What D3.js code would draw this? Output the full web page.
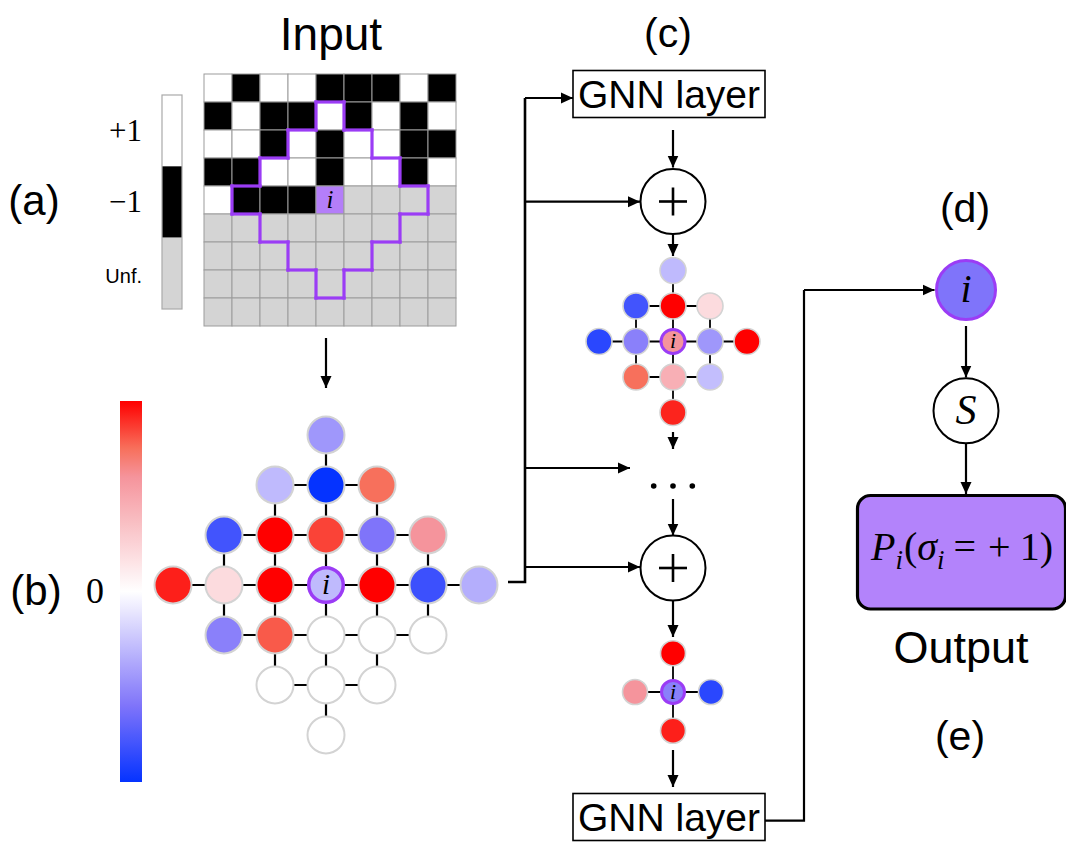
<!DOCTYPE html>
<html>
<head>
<meta charset="utf-8">
<script src="https://cdn.jsdelivr.net/npm/d3@7"></script>
<style>
  html, body { margin: 0; padding: 0; background: #fff; }
  svg { display: block; }
  .sans { font-family: "Liberation Sans", Arial, Helvetica, sans-serif; }
  .serif { font-family: "Liberation Serif", "Times New Roman", serif; }
</style>
</head>
<body>
<script>
// input lattice: +1 / -1 spins, 0 = not yet fixed
var spins = [
	[ 1, -1,  1,  1, -1, -1, -1,  1, -1],
	[-1,  1, -1, -1,  1, -1,  1, -1,  1],
	[ 1,  1, -1,  1, -1,  1,  1, -1, -1],
	[-1, -1,  1,  1, -1,  1,  1, -1,  1],
	[ 1, -1, -1, -1,  0,  0,  0,  0,  0],
	[ 0,  0,  0,  0,  0,  0,  0,  0,  0],
	[ 0,  0,  0,  0,  0,  0,  0,  0,  0],
	[ 0,  0,  0,  0,  0,  0,  0,  0,  0],
	[ 0,  0,  0,  0,  0,  0,  0,  0,  0]
];
var site = { row: 4, col: 4 };
var spinLabels = ['+1', '\u22121', 'Unf.'];
var spinValues = [1, -1, 0];

// node features, one list per row of the diamond (null = empty node)
var layerIn = [
	[-0.45],
	[-0.3, -1, 0.75],
	[-0.8, 1, 0.85, -0.6, 0.6],
	[0.93, 0.2, 1, -0.3, 1, -0.82, -0.35],
	[-0.55, 0.8, null, null, null],
	[null, null, null],
	[null]
];
var layerMid = [
	[-0.3],
	[-0.8, 1, 0.2],
	[-0.88, -0.55, 0.6, -0.45, 1],
	[0.75, 0.45, -0.28],
	[0.92]
];
var layerOut = [
	[1],
	[0.6, -0.55, -0.88],
	[0.93]
];
var siteOut = -0.6;
var formula = ['P', 'i', '(', '\u03c3', 'i', '=', '+', '1', ')'];

var purple = '#9b3cf5';

var color = d3.scaleLinear()
	.domain([-1, -0.6, 0, 0.6, 0.75, 1])
	.range(['#0533ff', '#7f74fa', '#ffffff', '#f5949c', '#f7705c', '#ff0000']);

var svg = d3.select('body').append('svg')
	.attr('width', 1066)
	.attr('height', 848);

var defs = svg.append('defs');
defs.append('marker')
	.attr('id', 'arrow')
	.attr('markerUnits', 'userSpaceOnUse')
	.attr('viewBox', '0 -6 12 12')
	.attr('refX', 12).attr('refY', 0)
	.attr('markerWidth', 12).attr('markerHeight', 12)
	.attr('orient', 'auto')
	.append('path')
	.attr('d', 'M0,-5.5L12,0L0,5.5Z')
	.attr('fill', '#000');

function arrow(points, w) {
	svg.append('path')
		.attr('d', d3.line()(points))
		.attr('fill', 'none')
		.attr('stroke', '#000')
		.attr('stroke-width', w || 2.2)
		.attr('marker-end', 'url(#arrow)');
}
function line(points, w) {
	svg.append('path')
		.attr('d', d3.line()(points))
		.attr('fill', 'none')
		.attr('stroke', '#000')
		.attr('stroke-width', w || 2.2);
}

// ---- (a) input grid
var gx = d3.scaleBand().domain(d3.range(9)).range([204, 456]);
var gy = d3.scaleBand().domain(d3.range(9)).range([74, 326]);
var cells = [];
spins.forEach(function (row, r) {
	row.forEach(function (v, c) { cells.push({ r: r, c: c, v: v }); });
});
var spinFill = d3.scaleOrdinal().domain(spinValues).range(['#ffffff', '#000000', '#d4d4d4']);

var grid = svg.append('g');
grid.selectAll('rect')
	.data(cells)
	.enter().append('rect')
	.attr('x', d => gx(d.c))
	.attr('y', d => gy(d.r))
	.attr('width', gx.bandwidth())
	.attr('height', gy.bandwidth())
	.attr('fill', d => (d.r === site.row && d.c === site.col) ? '#b47ef9' : spinFill(d.v))
	.attr('stroke', '#9c9c9c')
	.attr('stroke-width', 1);

grid.append('text')
	.attr('class', 'serif')
	.attr('x', gx(site.col) + gx.bandwidth() / 2)
	.attr('y', gy(site.row) + gy.bandwidth() / 2 + 8)
	.attr('text-anchor', 'middle')
	.attr('font-style', 'italic')
	.attr('font-size', 25)
	.text('i');

// outline of the receptive field
var R = (layerIn.length - 1) / 2;
function inside(r, c) { return Math.abs(r - site.row) + Math.abs(c - site.col) <= R; }
var segs = [];
cells.filter(d => inside(d.r, d.c)).forEach(function (d) {
	var x0 = gx(d.c), x1 = x0 + gx.bandwidth(), y0 = gy(d.r), y1 = y0 + gy.bandwidth();
	if (!inside(d.r - 1, d.c)) segs.push([[x0, y0], [x1, y0]]);
	if (!inside(d.r + 1, d.c)) segs.push([[x0, y1], [x1, y1]]);
	if (!inside(d.r, d.c - 1)) segs.push([[x0, y0], [x0, y1]]);
	if (!inside(d.r, d.c + 1)) segs.push([[x1, y0], [x1, y1]]);
});
grid.selectAll('path.outline')
	.data(segs)
	.enter().append('path')
	.attr('class', 'outline')
	.attr('d', d => d3.line()(d))
	.attr('stroke', purple)
	.attr('stroke-width', 3.2)
	.attr('stroke-linecap', 'square');

// spin legend
var ly = d3.scaleBand().domain(spinLabels).range([95, 309]);
svg.append('g').selectAll('rect')
	.data(spinLabels)
	.enter().append('rect')
	.attr('x', 162)
	.attr('y', d => ly(d))
	.attr('width', 20)
	.attr('height', ly.bandwidth())
	.attr('fill', (d, i) => spinFill(spinValues[i]));
svg.append('rect')
	.attr('x', 162).attr('y', 95).attr('width', 20).attr('height', 214)
	.attr('fill', 'none').attr('stroke', '#aaa').attr('stroke-width', 1.2);
svg.append('g').selectAll('text')
	.data(spinLabels)
	.enter().append('text')
	.attr('class', (d, i) => i < 2 ? 'serif' : 'sans')
	.attr('x', 142)
	.attr('y', d => ly(d) + ly.bandwidth() / 2 + 10)
	.attr('text-anchor', 'end')
	.attr('font-size', (d, i) => i < 2 ? 31 : 20)
	.text(d => d);

// ---- (b) colour bar
var grad = defs.append('linearGradient')
	.attr('id', 'cbar')
	.attr('x1', 0).attr('y1', 1).attr('x2', 0).attr('y2', 0);
grad.selectAll('stop')
	.data(d3.range(-1, 1.001, 0.05))
	.enter().append('stop')
	.attr('offset', d => (d + 1) / 2)
	.attr('stop-color', d => color(d));
svg.append('rect')
	.attr('x', 120).attr('y', 401).attr('width', 22).attr('height', 381)
	.attr('fill', 'url(#cbar)');

// ---- graphs
function drawGraph(rows, cx, cy, sx, sy, r, opt) {
	var n = (rows.length - 1) / 2;
	var x = d3.scaleLinear().domain([-n, n]).range([cx - n * sx, cx + n * sx]);
	var y = d3.scaleLinear().domain([-n, n]).range([cy - n * sy, cy + n * sy]);
	var nodes = [], lookup = {};
	rows.forEach(function (vals, k) {
		var dy = k - n, w = n - Math.abs(dy);
		vals.forEach(function (v, j) {
			var nd = { dx: j - w, dy: dy, v: v };
			nodes.push(nd);
			lookup[nd.dx + ',' + nd.dy] = nd;
		});
	});
	var edges = [];
	nodes.forEach(function (a) {
		var b = lookup[(a.dx + 1) + ',' + a.dy], c = lookup[a.dx + ',' + (a.dy + 1)];
		if (b) edges.push([a, b]);
		if (c) edges.push([a, c]);
	});
	var g = svg.append('g');
	g.selectAll('line')
		.data(edges)
		.enter().append('line')
		.attr('x1', d => x(d[0].dx)).attr('y1', d => y(d[0].dy))
		.attr('x2', d => x(d[1].dx)).attr('y2', d => y(d[1].dy))
		.attr('stroke', '#000')
		.attr('stroke-width', opt.edge);
	g.selectAll('circle')
		.data(nodes)
		.enter().append('circle')
		.attr('cx', d => x(d.dx))
		.attr('cy', d => y(d.dy))
		.attr('r', d => (d.dx === 0 && d.dy === 0) ? r - opt.ring / 2 + 0.5 : r)
		.attr('fill', d => d.v === null ? '#fff' : color(d.v))
		.attr('stroke', d => (d.dx === 0 && d.dy === 0) ? purple : '#d3d3d3')
		.attr('stroke-width', d => (d.dx === 0 && d.dy === 0) ? opt.ring : opt.stroke);
	g.append('text')
		.attr('class', 'serif')
		.attr('x', x(0))
		.attr('y', y(0) + opt.font * 0.3)
		.attr('text-anchor', 'middle')
		.attr('font-style', 'italic')
		.attr('font-size', opt.font)
		.text('i');
}

drawGraph(layerIn, 326, 585, 51, 50, 18.5, { edge: 2.2, stroke: 2, ring: 3.5, font: 29 });
drawGraph(layerMid, 673, 341.5, 37, 35.5, 13, { edge: 1.8, stroke: 1.6, ring: 3, font: 22 });
drawGraph(layerOut, 673, 692, 38, 38.8, 12.5, { edge: 1.8, stroke: 1.6, ring: 3, font: 22 });

// ---- (c) message passing column
arrow([[326, 338], [326, 388]]);

line([[508, 582], [525, 582], [525, 98]], 2.6);
arrow([[525, 98], [573, 98]]);
arrow([[525, 201.7], [640, 201.7]]);
arrow([[525, 468], [630, 468]]);
arrow([[525, 567], [640, 567]]);

function gnnBox(y0) {
	svg.append('rect')
		.attr('x', 573).attr('y', y0).attr('width', 192).attr('height', 47)
		.attr('fill', '#fff').attr('stroke', '#000').attr('stroke-width', 1.6);
	svg.append('text')
		.attr('class', 'sans')
		.attr('x', 669).attr('y', y0 + 37)
		.attr('text-anchor', 'middle')
		.attr('font-size', 39)
		.text('GNN layer');
}
function plus(cy) {
	svg.append('circle')
		.attr('cx', 673).attr('cy', cy).attr('r', 32.5)
		.attr('fill', '#fff').attr('stroke', '#000').attr('stroke-width', 2);
	line([[659, cy], [687, cy]], 2.6);
	line([[673, cy - 14], [673, cy + 14]], 2.6);
}

gnnBox(70.5);
arrow([[673, 130], [673, 167.5]]);
plus(201.5);
arrow([[673, 234], [673, 256]]);
arrow([[673, 432], [673, 449]]);

svg.append('g').selectAll('circle')
	.data([-1, 0, 1])
	.enter().append('circle')
	.attr('cx', d => 673 + d * 19.3)
	.attr('cy', 486)
	.attr('r', 2.8)
	.attr('fill', '#000');

arrow([[673, 499], [673, 535.5]]);
plus(568);
arrow([[673, 601], [673, 637]]);
arrow([[673, 750], [673, 787]]);
gnnBox(793.5);

// ---- (d) readout
line([[765, 820.7], [804, 820.7], [804, 290]], 2.2);
arrow([[804, 290], [934.5, 290]]);

svg.append('circle')
	.attr('cx', 966).attr('cy', 290).attr('r', 29.5)
	.attr('fill', color(siteOut)).attr('stroke', purple).attr('stroke-width', 3);
svg.append('text')
	.attr('class', 'serif')
	.attr('x', 966).attr('y', 302)
	.attr('text-anchor', 'middle')
	.attr('font-style', 'italic')
	.attr('font-size', 40)
	.text('i');

arrow([[966, 326], [966, 377.5]]);
svg.append('circle')
	.attr('cx', 966).attr('cy', 410.7).attr('r', 32.5)
	.attr('fill', '#fff').attr('stroke', '#000').attr('stroke-width', 2);
svg.append('text')
	.attr('class', 'serif')
	.attr('x', 966).attr('y', 424)
	.attr('text-anchor', 'middle')
	.attr('font-style', 'italic')
	.attr('font-size', 42)
	.text('S');
arrow([[966, 443.5], [966, 494]]);

// ---- (e) output
svg.append('rect')
	.attr('x', 857.5).attr('y', 495.5).attr('width', 208).attr('height', 113.5)
	.attr('rx', 13).attr('ry', 13)
	.attr('fill', '#b383fb').attr('stroke', '#000').attr('stroke-width', 3.2);

var subIdx = [1, 4], italIdx = [0, 1, 3, 4];
var gapBefore = { 2: 1, 5: 9, 6: 12, 7: 9 };
var ft = svg.append('text')
	.attr('class', 'serif')
	.attr('x', 962).attr('y', 560)
	.attr('text-anchor', 'middle')
	.attr('font-size', 40);
ft.selectAll('tspan')
	.data(formula)
	.enter().append('tspan')
	.attr('font-style', (d, i) => italIdx.indexOf(i) >= 0 ? 'italic' : null)
	.attr('font-size', (d, i) => subIdx.indexOf(i) >= 0 ? 27 : null)
	.attr('dx', (d, i) => gapBefore[i] || 0)
	.attr('dy', (d, i) => subIdx.indexOf(i) >= 0 ? 9 : subIdx.indexOf(i - 1) >= 0 ? -9 : 0)
	.text(d => d);

// ---- labels
var labels = [
	{ t: 'Input', x: 331, y: 50, s: 46 },
	{ t: '(a)', x: 34, y: 215, s: 42 },
	{ t: '(b)', x: 36, y: 605, s: 42 },
	{ t: '(c)', x: 668, y: 47, s: 41 },
	{ t: '(d)', x: 965, y: 222, s: 41 },
	{ t: 'Output', x: 961, y: 663, s: 45 },
	{ t: '(e)', x: 960, y: 750, s: 41 }
];
svg.append('g').selectAll('text')
	.data(labels)
	.enter().append('text')
	.attr('class', 'sans')
	.attr('x', d => d.x)
	.attr('y', d => d.y)
	.attr('text-anchor', 'middle')
	.attr('font-size', d => d.s)
	.text(d => d.t);

svg.append('text')
	.attr('class', 'serif')
	.attr('x', 95).attr('y', 603)
	.attr('text-anchor', 'middle')
	.attr('font-size', 36)
	.text('0');
</script>
</body>
</html>
